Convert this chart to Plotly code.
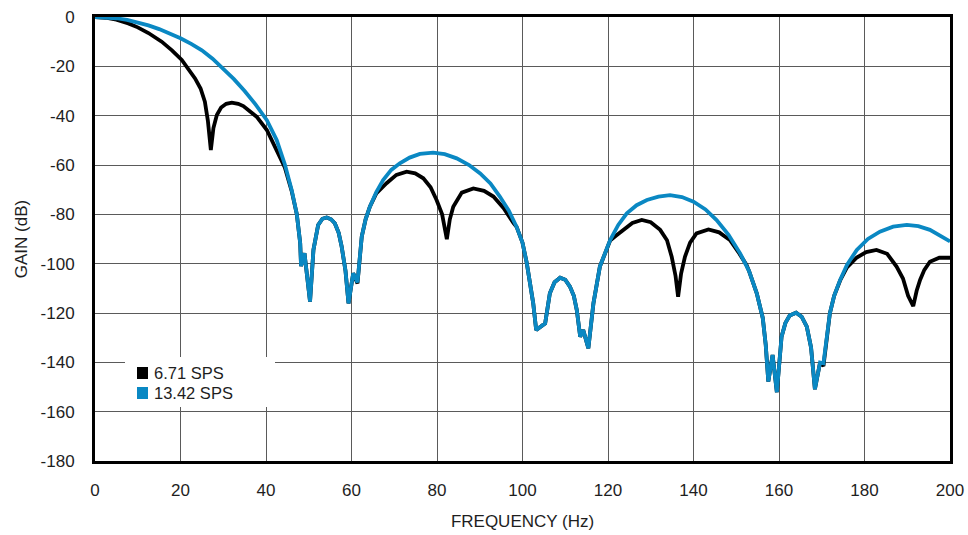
import plotly.graph_objects as go

# ---- data ----
freq_1342 = [0, 2.5, 5, 7.5, 10, 12.5, 15, 17.5, 20, 22.5, 25, 27.5, 30, 32.5, 35, 37.5, 40.2,
             42.5, 44.4, 46, 47.2, 48, 48.2, 49.0, 50.3, 51.1, 52.2, 53.2, 54.2, 55.2, 56.1, 57.0,
             57.7, 58.6, 59.3, 60.4, 61.4, 62.4, 63.3, 64.3, 65.8, 67.4, 69.3, 71.3, 73.6, 76,
             79.1, 81.8, 84.6, 87.5, 90.1, 92.5, 94.7, 96.8, 98.6, 100, 101, 102.5, 103.2, 105.3,
             106.4, 107.5, 108.8, 110, 111.1, 112, 112.7, 113.5, 114.2, 115.4, 116.6, 118.1,
             120.5, 122.4, 124.4, 126.7, 129.1, 131.8, 134.5, 137.3, 140, 142.8, 145.4, 148.2,
             150.9, 153, 154.8, 156.2, 156.9, 157.5, 158.5, 159.5, 160.6, 161.5, 162.5, 164,
             165.3, 166.5, 167.5, 168.4, 169.6, 170.4, 171.9, 172.9, 174.3, 175.9, 178.2, 180.8,
             183.6, 186.7, 189.9, 192.6, 195.3, 197.6, 200]
gain_1342 = [0, -0.13, -0.5, -1.2, -2.2, -3.4, -4.9, -6.6, -8.6, -10.9, -13.5, -16.9, -20.8,
             -25.2, -30, -35.3, -41.8, -49.9, -59.7, -70.1, -79.9, -91.7, -101, -95.8, -115.4,
             -94.4, -84.3, -81.8, -81.3, -82, -83.6, -87.5, -93.1, -103, -116.1, -103.9, -107.6,
             -89, -82, -76.9, -71, -66.1, -62, -59.3, -57, -55.5, -55.0, -55.6, -57.3, -60, -63.4,
             -67.5, -72.8, -78.5, -85, -91.5, -99.8, -116, -126.9, -124.2, -112, -107.5, -105.7,
             -106.5, -109.3, -113, -118.8, -129.6, -126.9, -134.3, -116, -101.2, -90.4, -84.3,
             -79.6, -76.3, -74.2, -72.8, -72.2, -73, -74.9, -78, -82.3, -88.3, -95.8, -103, -112,
             -122, -133, -147.8, -137, -152.1, -129.6, -124, -121, -119.9, -121.5, -125.5, -134,
             -150.9, -140.1, -140.4, -120.1, -113, -106.6, -100.5, -94.4, -90, -87, -85, -84.3,
             -84.8, -86.3, -88.5, -91]

freq_671 = [0, 2.5, 5, 7.8, 10, 12.5, 15.6, 18, 20.3, 22, 23.4, 24.7, 25.7, 26.4, 27.1, 27.7,
            28.5, 29.5, 30.7, 32, 33.5, 34.7, 37.8, 40.2, 42.5, 44.4, 46, 47.2, 48, 48.2, 49.0,
            50.3, 51.1, 52.2, 53.2, 54.2, 55.2, 56.1, 57.0, 57.7, 58.6, 59.3, 60.4, 61.4, 62.4,
            63.3, 64.3, 65.8, 68.2, 70.5, 72.9, 74.9, 76.8, 78.5, 79.9, 81.2, 82.3, 83.0, 83.8,
            85.8, 88.5, 91, 93.2, 95.6, 97.9, 98.6, 100, 101, 102.5, 103.2, 105.3, 106.4, 107.5,
            108.8, 110, 111.1, 112, 112.7, 113.5, 114.2, 115.4, 116.6, 118.1, 120.5, 122, 123.6,
            125.7, 127.9, 130, 132.2, 133.8, 134.9, 135.8, 136.4, 137.1, 138, 139.2, 140.7, 143.5,
            146, 148.5, 150.5, 152.4, 153, 154.8, 156.2, 156.9, 157.5, 158.5, 159.5, 160.6, 161.5,
            162.5, 164, 165.3, 166.5, 167.5, 168.4, 169.6, 170.4, 171.9, 172.9, 174.3, 175.9,
            178.2, 180.4, 182.8, 185.3, 187.5, 189, 190.2, 191.4, 192.2, 193, 194, 195.3, 197.5,
            200]
gain_671 = [0, -0.3, -1.1, -2.6, -4.2, -6.5, -10, -13.5, -17.4, -21.3, -24.9, -29, -34.3, -42,
            -53.9, -45, -39.7, -36.7, -35.2, -34.7, -35.2, -36.1, -40.4, -45.8, -53.9, -61, -70.5,
            -79.9, -91.7, -101, -95.8, -115.4, -94.4, -84.3, -81.8, -81.3, -82, -83.6, -87.5,
            -93.1, -103, -116.1, -103.9, -108, -89, -82, -76.9, -71.5, -67.4, -64, -62.7, -63.4,
            -65.4, -69, -74.2, -80, -90.1, -82, -76.9, -71.2, -69.5, -70.5, -72.8, -77.5, -83.6,
            -85, -91.5, -99.8, -116, -126.9, -124.2, -112, -107.5, -105.7, -106.5, -109.3, -113,
            -118.8, -129.6, -126.9, -134.3, -116, -101.2, -90.6, -88.5, -86.3, -83.5, -82.3,
            -83.2, -86.3, -90.5, -97.2, -105, -113.4, -104, -97.2, -91.5, -87.7, -86.1, -87.3,
            -90.4, -95.3, -100.5, -103, -112, -122, -133, -147.8, -137, -152.1, -129.6, -124,
            -121, -119.9, -121.5, -125.5, -134, -150.9, -140.1, -141.5, -120.1, -113, -106.8,
            -101.5, -97.5, -95.3, -94.4, -96, -101.2, -106, -113, -117.2, -111, -106.6, -102.5,
            -99.2, -97.6, -97.6]

series_names = ["6.71 SPS", "13.42 SPS"]
series_colors = ["#000000", "#0A88C3"]

x_ticks = [0, 20, 40, 60, 80, 100, 120, 140, 160, 180, 200]
y_ticks = [0, -20, -40, -60, -80, -100, -120, -140, -160, -180]
y_tick_text = ["0", "-20", "-40", "-60", "-80", "-100", "-120", "-140", "-160", "-180"]

FONT = "Liberation Sans, Arial, sans-serif"
TXT = "#1e1e1e"
FS = 17

fig = go.Figure()
fig.add_trace(go.Scatter(x=freq_671, y=gain_671, mode="lines", name=series_names[0],
                         showlegend=False, line=dict(color=series_colors[0], width=3.8)))
fig.add_trace(go.Scatter(x=freq_1342, y=gain_1342, mode="lines", name=series_names[1],
                         showlegend=False, line=dict(color=series_colors[1], width=3.8)))

# ---- legend (white box, square swatches, text) in paper coords ----
L, R, B, T = 95.0, 950.0, 461.0, 17.0
def px(x):
    return (x - L) / (R - L)
def py(y):
    return (B - y) / (B - T)

shapes = [dict(type="rect", xref="paper", yref="paper", x0=px(125), x1=px(275),
               y0=py(407), y1=py(357), fillcolor="white", line=dict(width=0), layer="above")]
annotations = []
for i, (name, col) in enumerate(zip(series_names, series_colors)):
    cy = 373 + 20 * i
    shapes.append(dict(type="rect", xref="paper", yref="paper", x0=px(137), x1=px(148),
                       y0=py(cy + 6), y1=py(cy - 6), fillcolor=col, line=dict(width=0),
                       layer="above"))
    annotations.append(dict(xref="paper", yref="paper", x=px(152), y=py(cy), text=name,
                            showarrow=False, xanchor="left", yanchor="middle",
                            font=dict(family=FONT, size=16.5, color=TXT)))

fig.update_layout(
    width=968, height=535,
    margin=dict(l=95, r=18, t=17, b=74),
    paper_bgcolor="white", plot_bgcolor="white",
    font=dict(family=FONT, size=FS, color=TXT),
    showlegend=False,
    shapes=shapes, annotations=annotations,
)
fig.update_xaxes(range=[0, 200], tickvals=x_ticks, showgrid=True, gridcolor="#5a5a5a",
                 gridwidth=1, zeroline=False, showline=True, linecolor="black", linewidth=3,
                 mirror=True, ticks="", ticklabelstandoff=12, automargin=False,
                 tickfont=dict(family=FONT, size=FS, color=TXT),
                 title=dict(text="FREQUENCY (Hz)", standoff=16,
                            font=dict(family=FONT, size=FS, color=TXT)))
fig.update_yaxes(range=[-180, 0], tickvals=y_ticks, ticktext=y_tick_text, showgrid=True,
                 gridcolor="#5a5a5a", gridwidth=1, zeroline=False, showline=True,
                 linecolor="black", linewidth=3, mirror=True, ticks="", ticklabelstandoff=14,
                 automargin=False,
                 tickfont=dict(family=FONT, size=FS, color=TXT),
                 title=dict(text="GAIN (dB)", standoff=9,
                            font=dict(family=FONT, size=FS, color=TXT)))

fig.write_html("out.html", config={"displayModeBar": False},
               post_script="document.body.style.margin='0';document.body.style.padding='0';")
